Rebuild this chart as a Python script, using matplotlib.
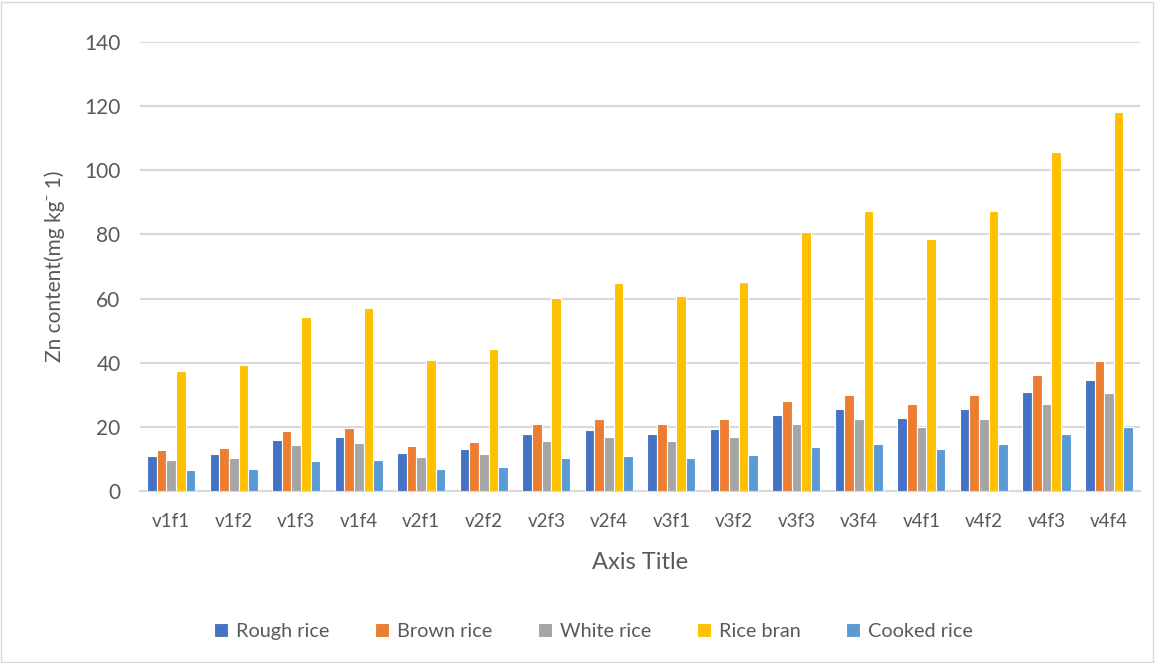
import numpy as np
import matplotlib.pyplot as plt
from matplotlib.patches import Rectangle

plt.rcParams['font.family'] = ['Lato', 'DejaVu Sans']

# Data
groups = ["v1f1", "v1f2", "v1f3", "v1f4", "v2f1", "v2f2", "v2f3", "v2f4",
          "v3f1", "v3f2", "v3f3", "v3f4", "v4f1", "v4f2", "v4f3", "v4f4"]
series = ["Rough rice", "Brown rice", "White rice", "Rice bran", "Cooked rice"]
rough = [11.0, 11.6, 15.9, 16.7, 12.0, 13.0, 17.7, 19.1,
         17.7, 19.2, 23.7, 25.5, 22.9, 25.5, 30.8, 34.5]
brown = [12.9, 13.5, 18.8, 19.7, 14.1, 15.3, 20.8, 22.4,
         20.9, 22.6, 28.0, 30.0, 27.0, 30.0, 36.3, 40.6]
white = [9.7, 10.2, 14.2, 14.9, 10.6, 11.6, 15.6, 16.9,
         15.7, 16.9, 20.9, 22.5, 20.1, 22.5, 27.2, 30.5]
bran = [37.5, 39.4, 54.4, 57.2, 40.9, 44.4, 60.3, 64.9,
        60.7, 65.3, 80.8, 87.4, 78.7, 87.4, 105.6, 118.3]
cooked = [6.4, 6.8, 9.3, 9.7, 7.0, 7.6, 10.2, 11.0,
          10.3, 11.2, 13.8, 14.7, 13.2, 14.7, 17.8, 19.9]
colors = ["#4472C4", "#ED7D31", "#A5A5A5", "#FFC000", "#5B9BD5"]

text_color = "#595959"
grid_color = "#D9D9D9"

fig = plt.figure(figsize=(11.55, 6.63), dpi=100)
ax = fig.add_axes([0.1212, 0.2594, 0.866, 0.6773])

x = np.arange(len(groups))
width = 0.154
for i, vals in enumerate([rough, brown, white, bran, cooked]):
    ax.bar(x + (i - 2) * width, vals, width, color=colors[i], label=series[i],
           edgecolor="white", linewidth=0.8, zorder=3)

ax.set_ylim(0, 140)
ax.set_yticks(range(0, 141, 20))
ax.set_xlim(-0.5, len(groups) - 0.5)
ax.set_xticks(x)
ax.set_xticklabels(groups)
ax.yaxis.grid(True, color=grid_color, linewidth=1.5, zorder=0)
ax.tick_params(length=0, colors=text_color)
ax.tick_params(axis="x", pad=16, labelsize=13.5)
ax.tick_params(axis="y", pad=14, labelsize=15)
for s in ["top", "right", "left"]:
    ax.spines[s].set_visible(False)
ax.spines["bottom"].set_color(grid_color)
ax.spines["bottom"].set_linewidth(1.5)

ax.set_xlabel("Axis Title", fontsize=17, color=text_color, labelpad=16)
ax.set_ylabel("Zn content(mg kg\u207b 1)", fontsize=15, color=text_color, labelpad=14)

fig.legend(loc="center", bbox_to_anchor=(0.514, 0.047), ncol=5, frameon=False,
           fontsize=14.3, labelcolor=text_color, handlelength=0.7, handleheight=0.7,
           handletextpad=0.4, columnspacing=2.3)

fig.patches.append(Rectangle((0.001, 0.002), 0.997, 0.995, transform=fig.transFigure,
                             fill=False, edgecolor=grid_color, linewidth=1))

plt.savefig("out.png", dpi=100)
plt.close()
